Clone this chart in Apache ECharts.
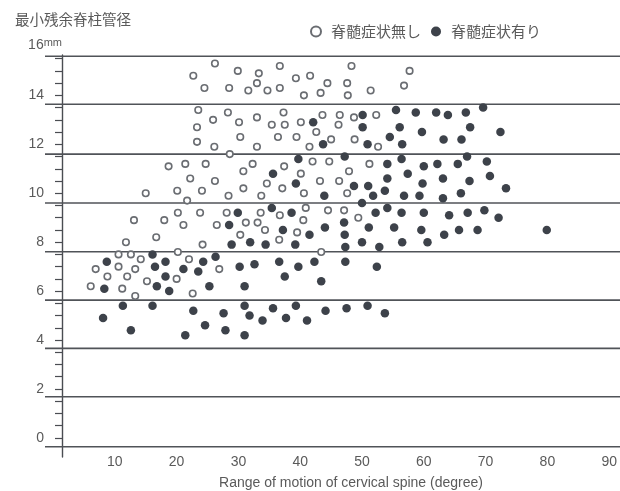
<!DOCTYPE html>
<html>
<head>
<meta charset="utf-8">
<script src="https://cdn.jsdelivr.net/npm/echarts@6/dist/echarts.min.js"></script>
<style>
  html, body { margin: 0; padding: 0; background: #fff; }
  #chart { width: 620px; height: 491px; }
</style>
</head>
<body>
<div id="chart"></div>
<script>
// Minimum residual canal diameter (mm) vs. cervical range of motion (degree)
const titleText = '最小残余脊柱管径';
const seriesNames = ['脊髄症状無し', '脊髄症状有り'];
const xAxisTitle = 'Range of motion of cervical spine (degree)';

// x tick labels (degree) and y tick labels (mm)
const xTicks = [10, 20, 30, 40, 50, 60, 70, 80, 90];
const yTicks = [0, 2, 4, 6, 8, 10, 12, 14];
const yTopLabel = '16';
const yUnit = 'mm';

// horizontal band rules across the plot (mm)
const bandLevels = [-0.36, 1.68, 3.66, 5.63, 7.61, 9.6, 11.6, 13.64, 15.6];

// without myelopathy: [range of motion, canal diameter]
const noMyelopathy = [
  [26.2,15.3],[29.9,15.0],[33.3,14.9],[22.7,14.8],[24.5,14.3],[28.5,14.3],[31.6,14.2],[33.0,14.5],
  [36.7,15.2],[48.3,15.2],[39.3,14.7],[41.6,14.8],[34.7,14.2],[36.7,14.3],[40.6,14.0],[43.3,14.1],
  [44.4,14.5],[47.6,14.5],[47.7,14.0],[51.4,14.2],[57.7,15.0],[56.8,14.4],
  [23.5,13.4],[28.3,13.3],[37.3,13.3],[43.6,13.2],[46.4,13.2],[48.7,13.1],[52.3,13.2],[25.9,13.0],
  [23.3,12.7],[30.1,12.9],[33.0,13.1],[35.4,12.8],[37.5,12.8],[40.1,12.9],[46.2,12.8],[42.6,12.5],
  [23.3,12.1],[30.3,12.3],[26.1,11.9],[33.0,11.9],[36.4,12.3],[39.4,12.3],[41.5,11.9],[45.0,12.2],
  [48.8,12.2],[52.6,11.9],[28.6,11.6],
  [18.7,11.1],[21.4,11.2],[24.7,11.2],[32.3,11.2],[30.8,10.9],[42.0,11.3],[44.7,11.3],[51.2,11.2],
  [37.4,11.1],[40.1,10.8],[47.9,10.9],[22.2,10.6],[26.2,10.5],[43.2,10.5],[46.3,10.5],[30.8,10.2],
  [34.6,10.4],[37.1,10.2],[15.0,10.0],[20.1,10.1],[24.1,10.1],[28.4,9.9],[33.7,9.9],[40.6,10.0],
  [47.6,10.0],[21.7,9.7],
  [20.2,9.2],[23.8,9.2],[28.1,9.2],[31.2,8.8],[33.1,8.8],[13.1,8.9],[18.0,8.9],[21.1,8.7],
  [26.5,8.7],[30.3,8.3],[24.2,7.9],[16.7,8.2],[11.8,8.0],[40.9,9.4],[44.5,9.3],[47.1,9.3],
  [33.6,9.2],[36.7,9.1],[40.5,8.9],[49.4,9.0],[34.3,8.5],[39.5,8.4],[36.6,8.1],[43.4,7.6],
  [10.6,7.5],[12.6,7.5],[14.2,7.3],[20.2,7.6],[22.0,7.3],[6.9,6.9],[10.6,7.0],[13.3,6.9],
  [26.9,6.9],[8.8,6.6],[12.0,6.6],[20.0,6.5],[15.2,6.4],[6.1,6.2],[11.2,6.1],[22.6,5.9],[13.3,5.8]
];

// with myelopathy: [range of motion, canal diameter]
const myelopathy = [
  [50.1,13.2],[42.1,12.9],[50.1,12.7],[43.7,12.0],[50.9,12.0],[55.5,13.4],[58.7,13.3],[62.0,13.3],
  [63.9,13.2],[66.8,13.3],[69.6,13.5],[56.1,12.7],[59.7,12.5],[67.5,12.7],[72.4,12.5],[54.5,12.3],
  [63.2,12.2],[66.1,12.2],[56.5,12.0],
  [39.7,11.4],[47.2,11.5],[35.6,10.8],[39.3,10.4],[48.7,10.3],[51.0,10.3],[43.9,9.9],[51.8,9.9],
  [54.1,11.2],[56.4,11.4],[60.0,11.1],[62.2,11.2],[65.5,11.2],[67.0,11.5],[70.2,11.3],[54.1,10.6],
  [57.4,10.8],[63.1,10.6],[67.4,10.5],[70.7,10.7],[59.8,10.4],[73.3,10.2],[53.7,10.1],[56.8,9.9],
  [59.3,9.9],[63.1,9.8],[66.0,10.0],
  [29.9,9.2],[28.5,8.7],[31.9,8.0],[28.9,7.9],[35.4,9.4],[50.0,9.6],[52.2,9.2],[54.1,9.4],
  [56.4,9.2],[60.0,9.2],[38.6,9.2],[47.1,8.8],[37.2,8.5],[41.5,8.3],[44.0,8.6],[47.2,8.3],
  [51.1,8.6],[55.2,8.6],[59.6,8.5],[34.4,7.9],[39.2,7.9],[47.3,7.8],[50.0,8.0],[52.8,7.8],
  [56.5,8.0],[60.6,8.0],[64.1,9.1],[67.1,9.2],[69.8,9.3],[72.1,9.0],[63.3,8.3],[65.7,8.5],
  [68.7,8.5],[79.9,8.5],
  [16.1,7.5],[18.2,7.2],[24.3,7.2],[26.3,7.4],[8.7,7.2],[16.5,7.0],[21.1,6.9],[23.5,6.8],
  [30.2,7.0],[32.6,7.1],[18.2,6.6],[8.3,6.1],[16.8,6.2],[18.8,6.0],[25.3,6.2],[31.0,6.2],
  [36.6,7.2],[39.7,7.0],[42.3,7.2],[47.3,7.2],[52.4,7.0],[37.5,6.6],[43.4,6.4],
  [11.3,5.4],[16.1,5.4],[31.0,5.4],[8.1,4.9],[22.7,5.2],[27.6,5.1],[31.8,5.0],[12.6,4.4],
  [24.6,4.6],[27.9,4.4],[31.0,4.2],[21.4,4.2],[33.9,4.8],[35.6,5.3],[39.3,5.4],[44.1,5.2],
  [47.5,5.3],[50.9,5.4],[53.7,5.1],[37.7,4.9],[41.1,4.8]
];

// axis extents
const xMin = -1.3, xMax = 91.75;
const yMin = -0.78, yMax = 15.65;

// minor ticks every half millimetre
const yMinorTicks = [];
for (let v = 0; v <= 15.5; v += 0.5) yMinorTicks.push(v);

const inkColor = '#4a4d52';
const ruleColor = '#505358';
const textColor = '#5a5a5a';
const textFont = '"Liberation Sans", Arial, sans-serif';
const cjkFont = '"Noto Sans CJK JP", sans-serif';

// each band rule is a flat line spanning the full x extent, drawn beneath the points
const bandSeries = bandLevels.map(level => ({
  name: 'band ' + level,
  type: 'line',
  data: [[xMin, level], [xMax, level]],
  symbol: 'none',
  silent: true,
  clip: false,
  lineStyle: { color: ruleColor, width: 1.6, type: 'solid' },
  z: 1
}));

const chart = echarts.init(document.getElementById('chart'), null, { renderer: 'canvas' });

chart.setOption({
  animation: false,
  backgroundColor: '#ffffff',
  title: {
    text: titleText,
    left: 10,
    top: 7,
    textStyle: { fontFamily: cjkFont, fontSize: 14.5, fontWeight: 'normal', color: textColor }
  },
  legend: {
    data: seriesNames,
    left: 305,
    top: 19,
    itemWidth: 20,
    itemHeight: 10,
    itemGap: 10,
    textStyle: { fontFamily: cjkFont, fontSize: 15, color: textColor }
  },
  grid: { left: 45, right: 0, top: 55, bottom: 34, containLabel: false, outerBoundsMode: 'none' },
  xAxis: {
    type: 'value',
    min: xMin,
    max: xMax,
    name: xAxisTitle,
    nameLocation: 'middle',
    nameGap: 19,
    nameTextStyle: { fontFamily: textFont, fontSize: 14, color: textColor, padding: [0, 0, 0, 37] },
    axisLine: { show: false },
    axisTick: { show: false },
    splitLine: { show: false },
    axisLabel: {
      customValues: xTicks,
      margin: -2,
      fontFamily: textFont,
      fontSize: 14,
      color: textColor
    }
  },
  yAxis: {
    type: 'value',
    min: yMin,
    max: yMax,
    offset: -17,
    name: '{a|' + yTopLabel + '}{b|' + yUnit + '}',
    nameLocation: 'end',
    nameGap: 2,
    nameTextStyle: {
      align: 'right',
      rich: {
        a: { fontFamily: textFont, fontSize: 14, color: textColor, lineHeight: 16 },
        b: { fontFamily: textFont, fontSize: 11, color: textColor, verticalAlign: 'top', lineHeight: 10 }
      }
    },
    axisLine: { show: true, lineStyle: { color: inkColor, width: 1.4 } },
    axisTick: { show: true, customValues: yMinorTicks, length: 7, lineStyle: { color: inkColor, width: 1.2 } },
    axisLabel: { customValues: yTicks, margin: 18, fontFamily: textFont, fontSize: 14, color: textColor },
    splitLine: { show: false }
  },
  series: bandSeries.concat([
    {
      name: seriesNames[0],
      type: 'scatter',
      data: noMyelopathy,
      symbol: 'circle',
      symbolSize: 6.5,
      itemStyle: { color: '#ffffff', borderColor: '#6a6d72', borderWidth: 1.6, opacity: 1 },
      z: 3
    },
    {
      name: seriesNames[1],
      type: 'scatter',
      data: myelopathy,
      symbol: 'circle',
      symbolSize: 8.5,
      itemStyle: { color: '#3d424a', opacity: 1 },
      z: 3
    }
  ])
});
</script>
</body>
</html>
